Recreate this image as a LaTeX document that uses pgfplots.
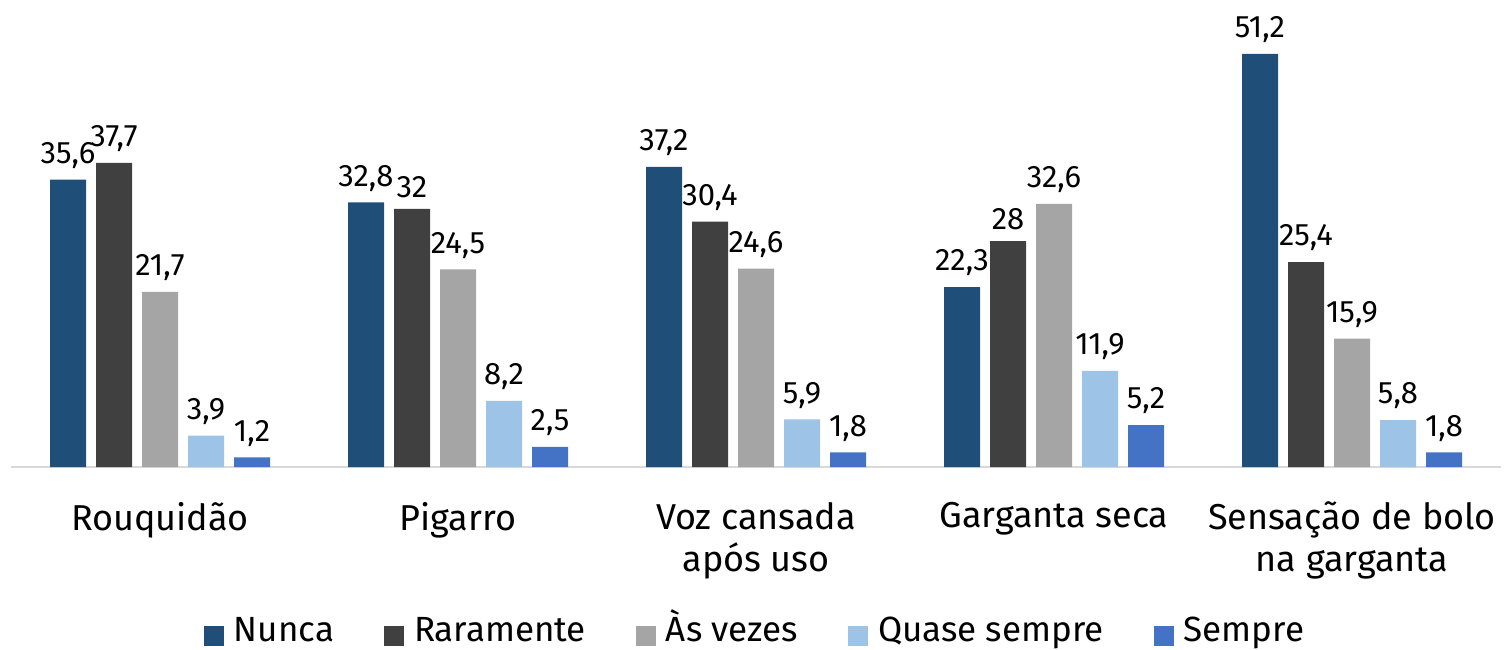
\documentclass[border=0pt]{standalone}
\usepackage{pgfplots}
\pgfplotsset{compat=1.18}
\usepackage{fontspec}
\setmainfont{Fira Sans}
\definecolor{cNunca}{HTML}{1F4E79}
\definecolor{cRar}{HTML}{404040}
\definecolor{cAs}{HTML}{A5A5A5}
\definecolor{cQuase}{HTML}{9DC3E6}
\definecolor{cSempre}{HTML}{4472C4}
\definecolor{axisgray}{HTML}{D9D9D9}
\begin{document}
\begin{tikzpicture}
\useasboundingbox (-5.5pt,-91pt) rectangle (747.5pt,233.5pt);
\begin{axis}[
  scale only axis,
  width=745pt, height=221.9pt,
  anchor=south west, at={(0pt,0pt)},
  ymin=0, ymax=55,
  xmin=-0.5, xmax=4.5,
  ybar=5pt, bar width=18pt,
  axis y line=none,
  axis x line=bottom,
  x axis line style={draw=axisgray, line width=1pt, -},
  xtick=data,
  xticklabels={Rouquidão, Pigarro, {Voz cansada\\após uso}, Garganta seca, {Sensação de bolo\\na garganta}},
  xticklabel style={align=center, font=\fontsize{18}{21}\selectfont, yshift=-14pt},
  major tick length=0pt,
  clip=false,
  nodes near coords,
  every node near coord/.append style={font=\fontsize{15.5}{17}\selectfont, yshift=2pt, text=black},
  /pgf/number format/.cd, use comma, 1000 sep={}, assume math mode=true,
  /pgfplots/.cd,
  legend columns=-1,
  legend style={at={(0.5,0)}, anchor=center, yshift=-84.5pt, xshift=0pt, draw=none, inner sep=0pt,
    font=\fontsize{17.5}{21}\selectfont,
    nodes={text height=0.72em, text depth=0.22em},
    /tikz/every odd column/.append style={column sep=3pt},
    /tikz/every even column/.append style={column sep=23pt}},
  legend image code/.code={\fill[#1] (0pt,-5pt) rectangle (10pt,5pt);},
]
\addplot[fill=cNunca, draw=none] coordinates {(0,35.6) (1,32.8) (2,37.2) (3,22.3) (4,51.2)};
\addplot[fill=cRar, draw=none] coordinates {(0,37.7) (1,32) (2,30.4) (3,28) (4,25.4)};
\addplot[fill=cAs, draw=none] coordinates {(0,21.7) (1,24.5) (2,24.6) (3,32.6) (4,15.9)};
\addplot[fill=cQuase, draw=none] coordinates {(0,3.9) (1,8.2) (2,5.9) (3,11.9) (4,5.8)};
\addplot[fill=cSempre, draw=none] coordinates {(0,1.2) (1,2.5) (2,1.8) (3,5.2) (4,1.8)};
\legend{Nunca, Raramente, Às vezes, Quase sempre, Sempre}
\end{axis}
\end{tikzpicture}
\end{document}
